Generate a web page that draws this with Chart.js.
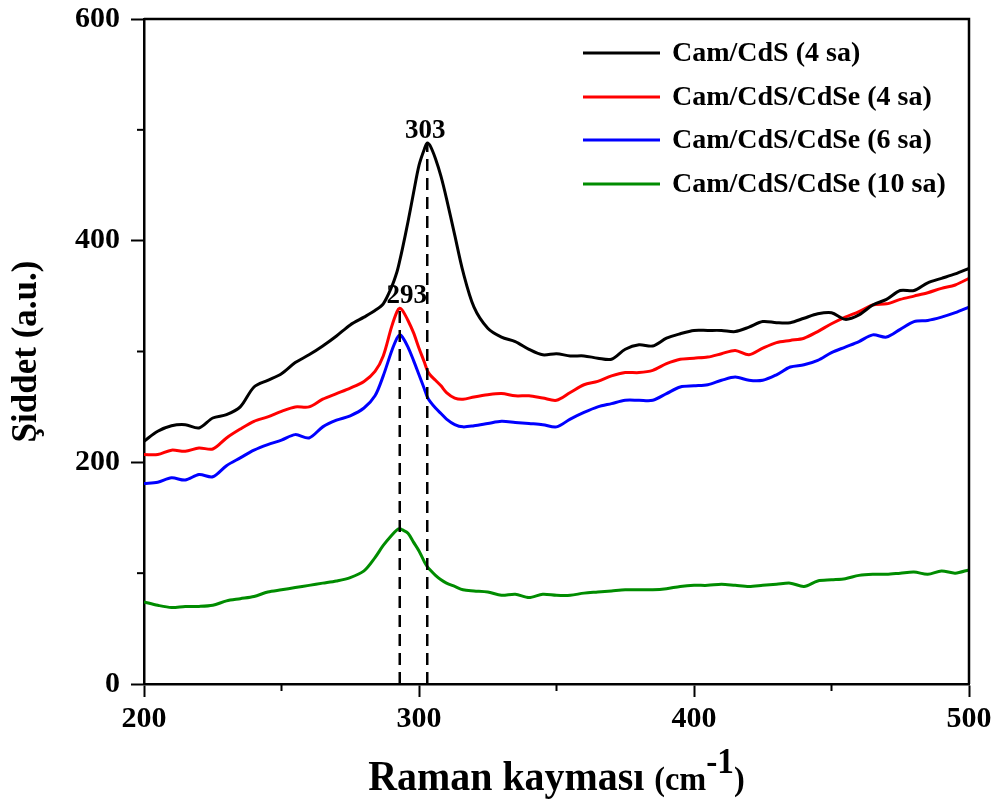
<!DOCTYPE html>
<html>
<head>
<meta charset="utf-8">
<script src="https://cdn.jsdelivr.net/npm/chart.js@4.4.1/dist/chart.umd.min.js"></script>
<style>
  body { margin: 0; background: #fff; }
</style>
</head>
<body>
<canvas id="ramanChart" width="996" height="800"></canvas>
<script>
const ramanShift = [200, 205, 210, 215, 220, 225, 230, 235, 240, 245, 250, 255, 260, 265, 270, 275, 280, 284, 287, 290, 292, 293, 294, 296, 298, 300, 302, 303, 304, 306, 308, 310, 313, 316, 320, 325, 330, 335, 340, 345, 350, 355, 360, 365, 370, 375, 380, 385, 390, 395, 400, 405, 410, 415, 420, 425, 430, 435, 440, 445, 450, 455, 460, 465, 470, 475, 480, 485, 490, 495, 500];

const camCdS4 = [219, 228, 233, 234, 231, 240, 243, 250, 268, 274, 280, 290, 297, 305, 314, 324, 331, 337, 343, 358, 372, 382, 393, 417, 443, 468, 483, 488, 486, 474, 458, 438, 405, 372, 340, 321, 313, 309, 302, 297, 298, 296, 296, 294, 293, 302, 306, 305, 312, 316, 319, 319, 319, 318, 322, 327, 326, 326, 330, 334, 335, 329, 333, 342, 347, 355, 355, 362, 366, 370, 375];
const camCdSe4 = [207, 207, 211, 210, 213, 212, 222, 230, 237, 241, 246, 250, 250, 257, 262, 267, 273, 282, 296, 322, 336, 339, 337, 328, 317, 303, 290, 283, 279, 274, 269, 263, 258, 257, 259, 261, 262, 260, 260, 258, 256, 263, 270, 273, 278, 281, 281, 283, 289, 293, 294, 295, 298, 301, 297, 303, 308, 310, 312, 318, 325, 331, 336, 342, 343, 347, 350, 353, 357, 360, 366];
const camCdSe6 = [181, 182, 186, 184, 189, 187, 197, 204, 211, 216, 220, 225, 222, 232, 238, 242, 249, 260, 278, 300, 312, 315, 313, 304, 292, 279, 266, 259, 255, 249, 244, 239, 234, 232, 233, 235, 237, 236, 235, 234, 232, 239, 245, 250, 253, 256, 256, 256, 262, 268, 269, 270, 274, 277, 274, 274, 279, 286, 288, 292, 299, 304, 309, 315, 313, 320, 327, 328, 331, 335, 340];
const camCdSe10 = [74, 71, 69, 70, 70, 71, 75, 77, 79, 83, 85, 87, 89, 91, 93, 96, 102, 114, 125, 134, 139, 140, 139, 136, 128, 120, 110, 106, 103, 98, 94, 91, 88, 85, 84, 83, 80, 81, 78, 81, 80, 80, 82, 83, 84, 85, 85, 85, 86, 88, 89, 89, 90, 89, 88, 89, 90, 91, 88, 93, 94, 95, 98, 99, 99, 100, 101, 99, 102, 100, 103];

const seriesLabels = ['Cam/CdS (4 sa)', 'Cam/CdS/CdSe (4 sa)', 'Cam/CdS/CdSe (6 sa)', 'Cam/CdS/CdSe (10 sa)'];
const seriesColors = ['#000000', '#ff0000', '#0000ff', '#008c00'];

const peakPositions = [293, 303];
const peakTops = [339, 488];

const yTicks = [0, 200, 400, 600];
const xTicks = [200, 300, 400, 500];

const serif = "'Liberation Serif', 'Times New Roman', serif";

function toPoints(values) {
    return ramanShift.map(function(x, i) { return { x: x, y: values[i] }; });
}

const seriesValues = [camCdS4, camCdSe4, camCdSe6, camCdSe10];
const datasets = seriesValues.map(function(values, i) {
    return {
        label: seriesLabels[i],
        data: toPoints(values),
        borderColor: seriesColors[i],
        borderWidth: 3,
        pointRadius: 0,
        tension: 0.3,
        order: 1
    };
});
peakPositions.forEach(function(p, i) {
    datasets.push({
        label: 'peak ' + p,
        data: [{ x: p, y: 0 }, { x: p, y: peakTops[i] }],
        borderColor: '#000000',
        borderWidth: 2.5,
        borderDash: [12, 7],
        pointRadius: 0,
        order: 0
    });
});

// frame, minor ticks, peak labels, legend and x title
const extrasPlugin = {
    id: 'extras',
    afterDraw: function(chart) {
        const ctx = chart.ctx;
        const area = chart.chartArea;
        const xs = chart.scales.x;
        const ys = chart.scales.y;
        ctx.save();

        ctx.strokeStyle = '#000';
        ctx.lineWidth = 2.5;
        ctx.beginPath();
        ctx.moveTo(area.left, area.top);
        ctx.lineTo(area.right, area.top);
        ctx.lineTo(area.right, area.bottom);
        ctx.stroke();

        ctx.lineWidth = 2;
        [100, 300, 500].forEach(function(v) {
            const py = ys.getPixelForValue(v);
            ctx.beginPath();
            ctx.moveTo(area.left - 7, py);
            ctx.lineTo(area.left, py);
            ctx.stroke();
        });
        [250, 350, 450].forEach(function(v) {
            const px = xs.getPixelForValue(v);
            ctx.beginPath();
            ctx.moveTo(px, area.bottom);
            ctx.lineTo(px, area.bottom + 7);
            ctx.stroke();
        });

        ctx.fillStyle = '#000';
        ctx.font = 'bold 27px ' + serif;
        ctx.textAlign = 'center';
        ctx.textBaseline = 'alphabetic';
        ctx.fillText('303', xs.getPixelForValue(303) - 2, ys.getPixelForValue(peakTops[1]) - 5);
        ctx.fillText('293', xs.getPixelForValue(293) + 7, ys.getPixelForValue(peakTops[0]) - 5);

        // legend
        ctx.font = 'bold 28px ' + serif;
        ctx.textAlign = 'left';
        ctx.textBaseline = 'middle';
        const rows = [53, 97, 140, 184];
        seriesLabels.forEach(function(label, i) {
            ctx.strokeStyle = seriesColors[i];
            ctx.lineWidth = 3;
            ctx.beginPath();
            ctx.moveTo(583, rows[i]);
            ctx.lineTo(660, rows[i]);
            ctx.stroke();
            ctx.fillText(label, 672, rows[i] + 1);
        });

        // x axis title with superscript, slightly condensed like the original
        const squeeze = 0.95;
        const parts = [
            { text: 'Raman kayması ', size: 42, rise: 0 },
            { text: '(cm', size: 34, rise: 0 },
            { text: '-1', size: 35, rise: 17 },
            { text: ')', size: 34, rise: 0 }
        ];
        let total = 0;
        parts.forEach(function(p) {
            ctx.font = 'bold ' + p.size + 'px ' + serif;
            p.w = ctx.measureText(p.text).width * squeeze;
            total += p.w;
        });
        let x = (area.left + area.right) / 2 - total / 2;
        const baseY = 790;
        ctx.textBaseline = 'alphabetic';
        parts.forEach(function(p) {
            ctx.font = 'bold ' + p.size + 'px ' + serif;
            ctx.save();
            ctx.translate(x, baseY - p.rise);
            ctx.scale(squeeze, 1);
            ctx.fillText(p.text, 0, 0);
            ctx.restore();
            x += p.w;
        });

        ctx.restore();
    }
};

new Chart(document.getElementById('ramanChart'), {
    type: 'line',
    data: { datasets: datasets },
    options: {
        responsive: false,
        animation: false,
        layout: { padding: { top: 19, right: 27, left: 0, bottom: 0 } },
        plugins: {
            legend: { display: false },
            tooltip: { enabled: false }
        },
        scales: {
            x: {
                type: 'linear',
                min: 200,
                max: 500,
                afterFit: function(scale) { scale.height = 116; },
                afterBuildTicks: function(scale) {
                    scale.ticks = xTicks.map(function(v) { return { value: v }; });
                },
                ticks: {
                    color: '#000',
                    padding: 4,
                    font: { family: serif, size: 30, weight: 'bold' },
                    callback: function(v) { return String(v); }
                },
                grid: {
                    drawOnChartArea: false,
                    tickLength: 13,
                    tickWidth: 2,
                    tickColor: '#000'
                },
                border: { display: true, color: '#000', width: 2.5 }
            },
            y: {
                min: 0,
                max: 600,
                afterFit: function(scale) {
                    scale.width = 144;
                    scale.paddingTop = 0;
                    scale.paddingBottom = 0;
                },
                afterBuildTicks: function(scale) {
                    scale.ticks = yTicks.map(function(v) { return { value: v }; });
                },
                ticks: {
                    color: '#000',
                    padding: 11,
                    font: { family: serif, size: 30, weight: 'bold' },
                    callback: function(v) { return String(v); }
                },
                grid: {
                    drawOnChartArea: false,
                    tickLength: 13,
                    tickWidth: 2,
                    tickColor: '#000'
                },
                border: { display: true, color: '#000', width: 2.5 },
                title: {
                    display: true,
                    text: 'Şiddet (a.u.)',
                    color: '#000',
                    padding: { top: 6, bottom: 0 },
                    font: { family: serif, size: 35, weight: 'bold' }
                }
            }
        }
    },
    plugins: [extrasPlugin]
});
</script>
</body>
</html>
